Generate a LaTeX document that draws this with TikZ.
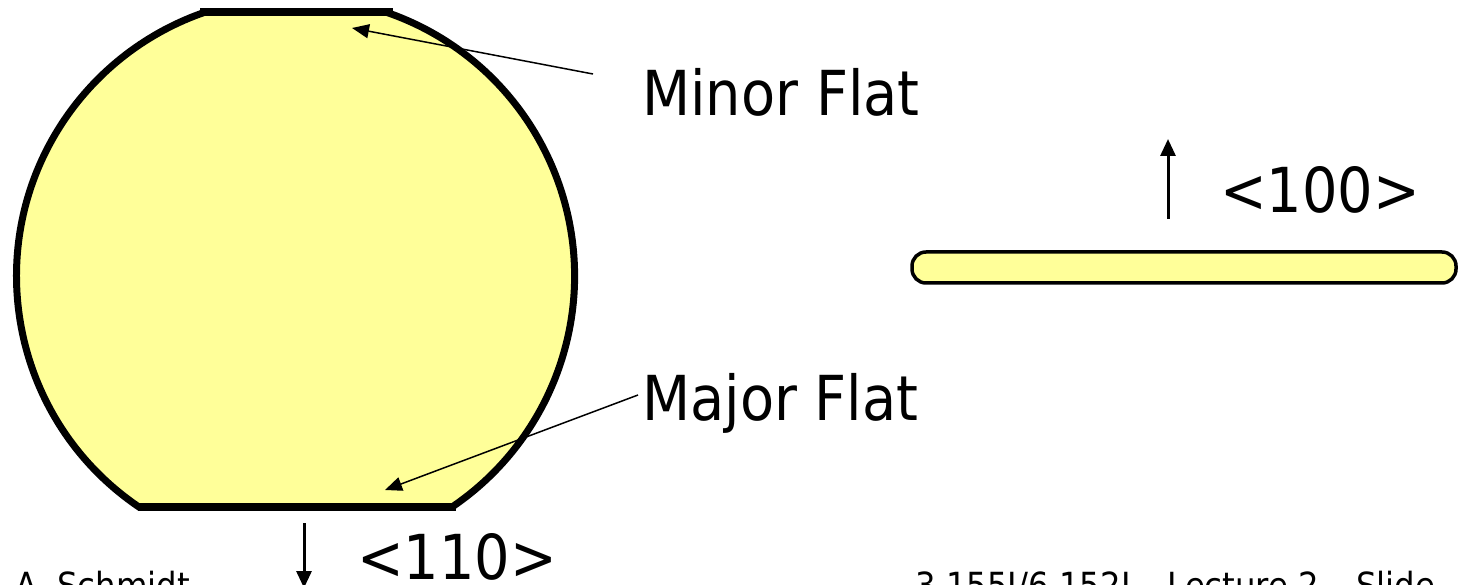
\documentclass[tikz,border=0pt]{standalone}
\usepackage{fontspec}
\setmainfont{DejaVu Sans}[FakeStretch=0.9]
\usetikzlibrary{arrows.meta}
\definecolor{waferyellow}{RGB}{255,255,153}
\begin{document}
\begin{tikzpicture}[x=1pt,y=1pt,
  wafer/.style={line width=7pt,fill=waferyellow},
  flatline/.style={line width=8pt,line cap=butt},
  bigtext/.style={anchor=base west,inner sep=0pt,font=\fontsize{62}{70}\selectfont},
  foot/.style={anchor=base west,inner sep=0pt,font=\fontsize{36}{40}\selectfont},
  thinarrow/.style={line width=1.5pt,-{Triangle[length=17pt,width=14pt]}},
  dirarrow/.style={line width=3pt,-{Triangle[length=17pt,width=15pt]}}]
\useasboundingbox (0,0) rectangle (1461,-585);
% wafer
\draw[wafer] (385.9,-12.1) arc[start angle=71.1,end angle=-55.9,radius=279pt]
  -- (139.1,-507.1) arc[start angle=235.9,end angle=108.9,radius=279pt] -- cycle;
\draw[flatline] (200,-12) -- (393,-12);
\draw[flatline] (138,-507) -- (456,-507);
% slab (side view)
\node[draw,line width=3.5pt,fill=waferyellow,rounded corners=14pt,
  minimum width=544pt,minimum height=31pt,inner sep=0pt] (slab) at (1184,-267.5) {};
% labels
\node[bigtext] (minor) at (642,-116) {Minor Flat};
\node[bigtext] (major) at (642,-420) {Major Flat};
\node[bigtext] (l100) at (1220,-213) {<100>};
\node[bigtext] (l110) at (357,-579) {<110>};
\node[foot] (author) at (15,-598) {A. Schmidt};
\node[foot] (course) at (915,-598) {3.155J/6.152J – Lecture 2 – Slide};
% connectors
\coordinate (minorS) at (593,-74);
\coordinate (minorT) at (352,-28);
\coordinate (majorS) at (638,-395);
\coordinate (majorT) at (385,-490);
\coordinate (a100S) at (1168,-219);
\coordinate (a100T) at (1168,-139);
\coordinate (a110S) at (304,-523);
\coordinate (a110T) at (304,-588);
\draw[thinarrow] (minorS) -- (minorT);
\draw[thinarrow] (majorS) -- (majorT);
\draw[dirarrow] (a100S) -- (a100T);
\draw[dirarrow] (a110S) -- (a110T);
\end{tikzpicture}
\end{document}
